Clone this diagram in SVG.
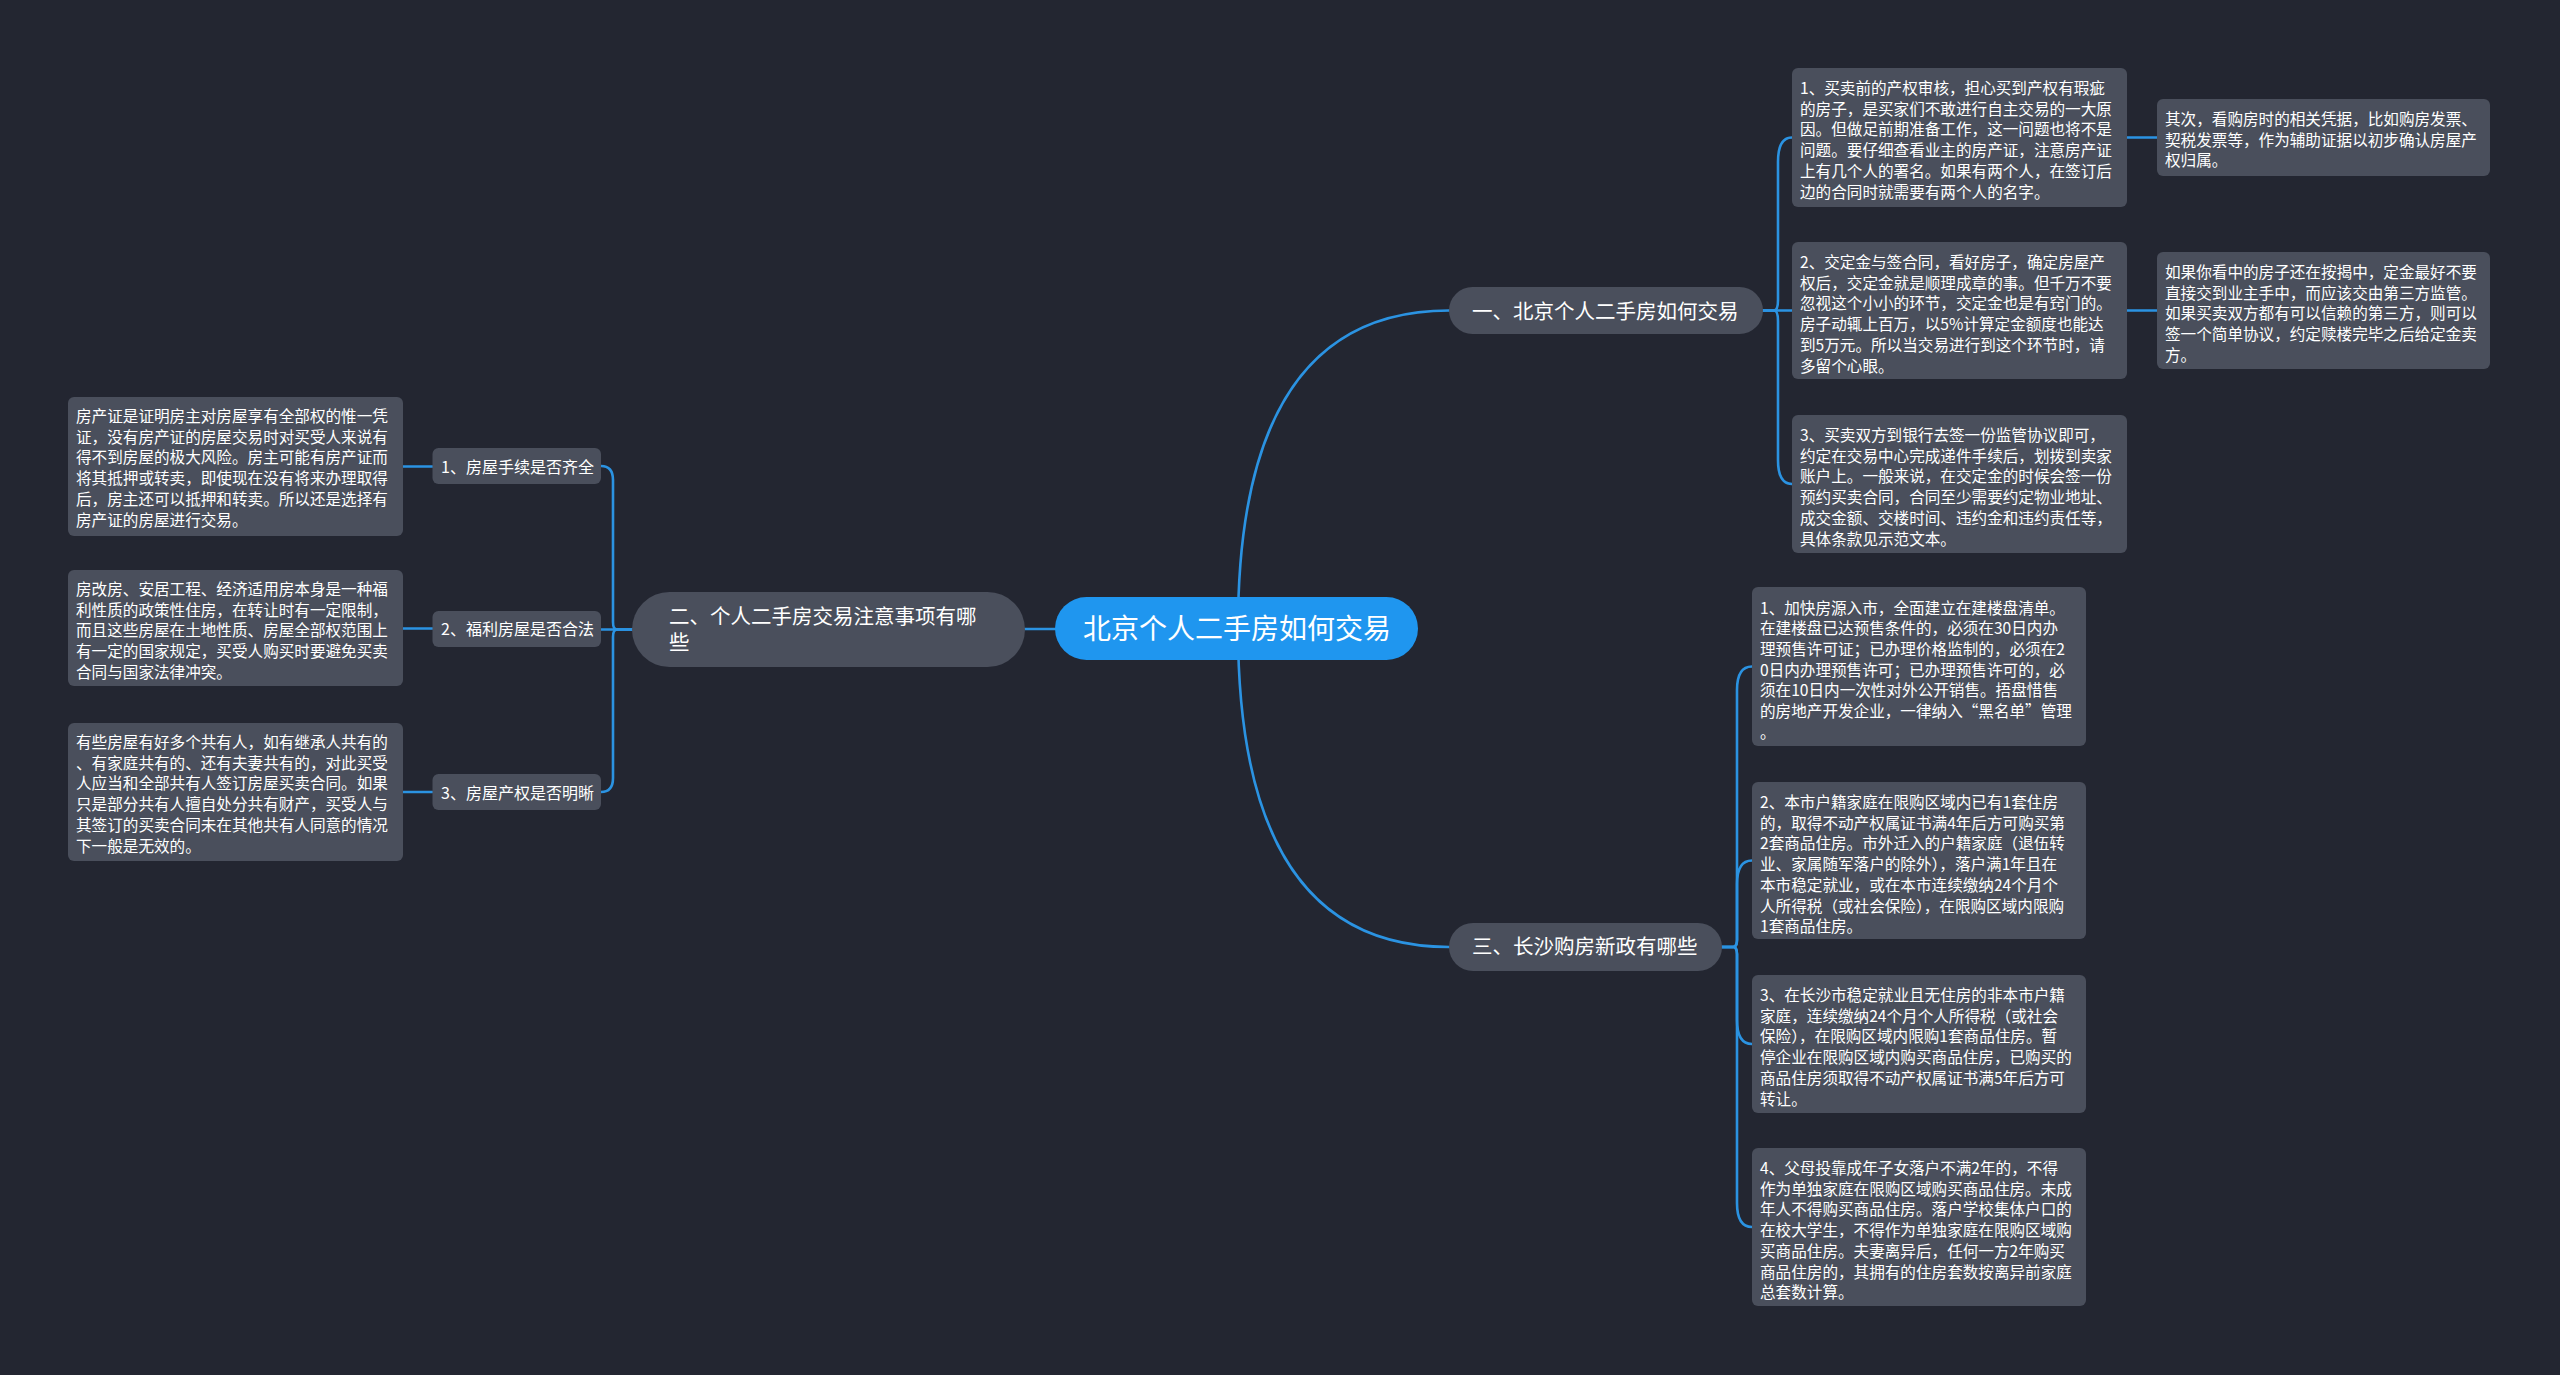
<svg xmlns="http://www.w3.org/2000/svg" width="2560" height="1375" viewBox="0 0 2560 1375">
<style>
.bg{fill:#232631}
.ln{fill:none;stroke:#2b93e2;stroke-width:2.6;stroke-linecap:round}
.leaf{fill:#4a4f5c}
.mid{fill:#4a4f5c}
.root{fill:#1f96ef}
text{font-family:"Noto Sans CJK SC","Noto Sans",sans-serif;fill:#ffffff}
.t{font-size:15.6px}
.t2{font-size:16px}
.t1{font-size:20.5px}
.t0{font-size:28px}
</style>
<rect class="bg" x="0" y="0" width="2560" height="1375"/>
<g id="connectors">
<path class="ln" d="M1238,628 Q1238,310.5 1449,310.5"/>
<path class="ln" d="M1238,628 Q1238,947 1449,947"/>
<path class="ln" d="M1055,629 H1025"/>
<path class="ln" d="M1763,310.5 H1792"/>
<path class="ln" d="M1763,310.5 H1774 Q1778,310.5 1778,300 V162 Q1778,137.5 1792,137.5"/>
<path class="ln" d="M1763,310.5 H1774 Q1778,310.5 1778,321 V460 Q1778,484 1792,484"/>
<path class="ln" d="M2127,137.5 H2157"/>
<path class="ln" d="M2127,310.5 H2157"/>
<path class="ln" d="M1722,947 H1733 Q1737,947 1737,940 V690 Q1737,666.5 1752,666.5"/>
<path class="ln" d="M1722,947 H1733 Q1737,947 1737,940 V884 Q1737,860.5 1752,860.5"/>
<path class="ln" d="M1722,947 H1733 Q1737,947 1737,954 V1020 Q1737,1044 1752,1044"/>
<path class="ln" d="M1722,947 H1733 Q1737,947 1737,954 V1203 Q1737,1227 1752,1227"/>
<path class="ln" d="M632,629.5 H617 Q613,629.5 613,622 V480 Q613,466 601,466"/>
<path class="ln" d="M632,629.5 H601"/>
<path class="ln" d="M632,629.5 H617 Q613,629.5 613,637 V778 Q613,792 601,792"/>
<path class="ln" d="M403,466.5 H432.5"/>
<path class="ln" d="M403,628.5 H432.5"/>
<path class="ln" d="M403,792 H432.5"/>
</g>
<g id="root">
<rect class="root" x="1055" y="597" width="363" height="63" rx="31.5"/>
<text class="t0" x="1237" y="638.5" text-anchor="middle">北京个人二手房如何交易</text>
</g>
<g id="n1">
<rect class="mid" x="1449" y="287" width="314" height="47" rx="23.5"/>
<text class="t1" x="1472" y="319">一、北京个人二手房如何交易</text>
</g>
<g id="n2">
<rect class="mid" x="632" y="592" width="393" height="75" rx="37.5"/>
<text class="t1" x="669"><tspan x="669" y="624">二、个人二手房交易注意事项有哪</tspan><tspan x="669" y="650">些</tspan></text>
</g>
<g id="n3">
<rect class="mid" x="1449" y="923" width="273" height="48" rx="24"/>
<text class="t1" x="1472" y="954">三、长沙购房新政有哪些</text>
</g>
<g id="n2-1">
<rect class="mid" x="432.5" y="448" width="168.5" height="36" rx="6"/>
<text class="t2" x="441" y="472.5">1、房屋手续是否齐全</text>
</g>
<g id="n2-2">
<rect class="mid" x="432.5" y="611" width="168.5" height="36" rx="6"/>
<text class="t2" x="441" y="635">2、福利房屋是否合法</text>
</g>
<g id="n2-3">
<rect class="mid" x="432.5" y="774" width="168.5" height="36" rx="6"/>
<text class="t2" x="441" y="798.5">3、房屋产权是否明晰</text>
</g>
<g id="r1">
<rect class="leaf" x="1792" y="68" width="335" height="139" rx="6"/>
<text class="t"><tspan x="1800" y="94">1、买卖前的产权审核，担心买到产权有瑕疵</tspan><tspan x="1800" dy="20.7">的房子，是买家们不敢进行自主交易的一大原</tspan><tspan x="1800" dy="20.7">因。但做足前期准备工作，这一问题也将不是</tspan><tspan x="1800" dy="20.7">问题。要仔细查看业主的房产证，注意房产证</tspan><tspan x="1800" dy="20.7">上有几个人的署名。如果有两个人，在签订后</tspan><tspan x="1800" dy="20.7">边的合同时就需要有两个人的名字。</tspan></text>
</g>
<g id="r1a">
<rect class="leaf" x="2157" y="99" width="333" height="77" rx="6"/>
<text class="t"><tspan x="2165" y="125">其次，看购房时的相关凭据，比如购房发票、</tspan><tspan x="2165" dy="20.7">契税发票等，作为辅助证据以初步确认房屋产</tspan><tspan x="2165" dy="20.7">权归属。</tspan></text>
</g>
<g id="r2">
<rect class="leaf" x="1792" y="242" width="335" height="137" rx="6"/>
<text class="t"><tspan x="1800" y="268">2、交定金与签合同，看好房子，确定房屋产</tspan><tspan x="1800" dy="20.7">权后，交定金就是顺理成章的事。但千万不要</tspan><tspan x="1800" dy="20.7">忽视这个小小的环节，交定金也是有窍门的。</tspan><tspan x="1800" dy="20.7">房子动辄上百万，以5%计算定金额度也能达</tspan><tspan x="1800" dy="20.7">到5万元。所以当交易进行到这个环节时，请</tspan><tspan x="1800" dy="20.7">多留个心眼。</tspan></text>
</g>
<g id="r2a">
<rect class="leaf" x="2157" y="252" width="333" height="117" rx="6"/>
<text class="t"><tspan x="2165" y="278">如果你看中的房子还在按揭中，定金最好不要</tspan><tspan x="2165" dy="20.7">直接交到业主手中，而应该交由第三方监管。</tspan><tspan x="2165" dy="20.7">如果买卖双方都有可以信赖的第三方，则可以</tspan><tspan x="2165" dy="20.7">签一个简单协议，约定赎楼完毕之后给定金卖</tspan><tspan x="2165" dy="20.7">方。</tspan></text>
</g>
<g id="r3">
<rect class="leaf" x="1792" y="415" width="335" height="138" rx="6"/>
<text class="t"><tspan x="1800" y="441">3、买卖双方到银行去签一份监管协议即可，</tspan><tspan x="1800" dy="20.7">约定在交易中心完成递件手续后，划拨到卖家</tspan><tspan x="1800" dy="20.7">账户上。一般来说，在交定金的时候会签一份</tspan><tspan x="1800" dy="20.7">预约买卖合同，合同至少需要约定物业地址、</tspan><tspan x="1800" dy="20.7">成交金额、交楼时间、违约金和违约责任等，</tspan><tspan x="1800" dy="20.7">具体条款见示范文本。</tspan></text>
</g>
<g id="s1">
<rect class="leaf" x="1752" y="587" width="334" height="159" rx="6"/>
<text class="t"><tspan x="1760" y="613.5">1、加快房源入市，全面建立在建楼盘清单。</tspan><tspan x="1760" dy="20.7">在建楼盘已达预售条件的，必须在30日内办</tspan><tspan x="1760" dy="20.7">理预售许可证；已办理价格监制的，必须在2</tspan><tspan x="1760" dy="20.7">0日内办理预售许可；已办理预售许可的，必</tspan><tspan x="1760" dy="20.7">须在10日内一次性对外公开销售。捂盘惜售</tspan><tspan x="1760" dy="20.7">的房地产开发企业，一律纳入“黑名单”管理</tspan><tspan x="1760" dy="20.7">。</tspan></text>
</g>
<g id="s2">
<rect class="leaf" x="1752" y="782" width="334" height="157" rx="6"/>
<text class="t"><tspan x="1760" y="808">2、本市户籍家庭在限购区域内已有1套住房</tspan><tspan x="1760" dy="20.7">的，取得不动产权属证书满4年后方可购买第</tspan><tspan x="1760" dy="20.7">2套商品住房。市外迁入的户籍家庭（退伍转</tspan><tspan x="1760" dy="20.7">业、家属随军落户的除外），落户满1年且在</tspan><tspan x="1760" dy="20.7">本市稳定就业，或在本市连续缴纳24个月个</tspan><tspan x="1760" dy="20.7">人所得税（或社会保险），在限购区域内限购</tspan><tspan x="1760" dy="20.7">1套商品住房。</tspan></text>
</g>
<g id="s3">
<rect class="leaf" x="1752" y="975" width="334" height="138" rx="6"/>
<text class="t"><tspan x="1760" y="1001">3、在长沙市稳定就业且无住房的非本市户籍</tspan><tspan x="1760" dy="20.7">家庭，连续缴纳24个月个人所得税（或社会</tspan><tspan x="1760" dy="20.7">保险），在限购区域内限购1套商品住房。暂</tspan><tspan x="1760" dy="20.7">停企业在限购区域内购买商品住房，已购买的</tspan><tspan x="1760" dy="20.7">商品住房须取得不动产权属证书满5年后方可</tspan><tspan x="1760" dy="20.7">转让。</tspan></text>
</g>
<g id="s4">
<rect class="leaf" x="1752" y="1148" width="334" height="158" rx="6"/>
<text class="t"><tspan x="1760" y="1174">4、父母投靠成年子女落户不满2年的，不得</tspan><tspan x="1760" dy="20.7">作为单独家庭在限购区域购买商品住房。未成</tspan><tspan x="1760" dy="20.7">年人不得购买商品住房。落户学校集体户口的</tspan><tspan x="1760" dy="20.7">在校大学生，不得作为单独家庭在限购区域购</tspan><tspan x="1760" dy="20.7">买商品住房。夫妻离异后，任何一方2年购买</tspan><tspan x="1760" dy="20.7">商品住房的，其拥有的住房套数按离异前家庭</tspan><tspan x="1760" dy="20.7">总套数计算。</tspan></text>
</g>
<g id="l1">
<rect class="leaf" x="68" y="397" width="335" height="139" rx="6"/>
<text class="t"><tspan x="76" y="422">房产证是证明房主对房屋享有全部权的惟一凭</tspan><tspan x="76" dy="20.7">证，没有房产证的房屋交易时对买受人来说有</tspan><tspan x="76" dy="20.7">得不到房屋的极大风险。房主可能有房产证而</tspan><tspan x="76" dy="20.7">将其抵押或转卖，即使现在没有将来办理取得</tspan><tspan x="76" dy="20.7">后，房主还可以抵押和转卖。所以还是选择有</tspan><tspan x="76" dy="20.7">房产证的房屋进行交易。</tspan></text>
</g>
<g id="l2">
<rect class="leaf" x="68" y="570" width="335" height="116" rx="6"/>
<text class="t"><tspan x="76" y="595">房改房、安居工程、经济适用房本身是一种福</tspan><tspan x="76" dy="20.7">利性质的政策性住房，在转让时有一定限制，</tspan><tspan x="76" dy="20.7">而且这些房屋在土地性质、房屋全部权范围上</tspan><tspan x="76" dy="20.7">有一定的国家规定，买受人购买时要避免买卖</tspan><tspan x="76" dy="20.7">合同与国家法律冲突。</tspan></text>
</g>
<g id="l3">
<rect class="leaf" x="68" y="723" width="335" height="138" rx="6"/>
<text class="t"><tspan x="76" y="748">有些房屋有好多个共有人，如有继承人共有的</tspan><tspan x="76" dy="20.7">、有家庭共有的、还有夫妻共有的，对此买受</tspan><tspan x="76" dy="20.7">人应当和全部共有人签订房屋买卖合同。如果</tspan><tspan x="76" dy="20.7">只是部分共有人擅自处分共有财产，买受人与</tspan><tspan x="76" dy="20.7">其签订的买卖合同未在其他共有人同意的情况</tspan><tspan x="76" dy="20.7">下一般是无效的。</tspan></text>
</g>
</svg>
